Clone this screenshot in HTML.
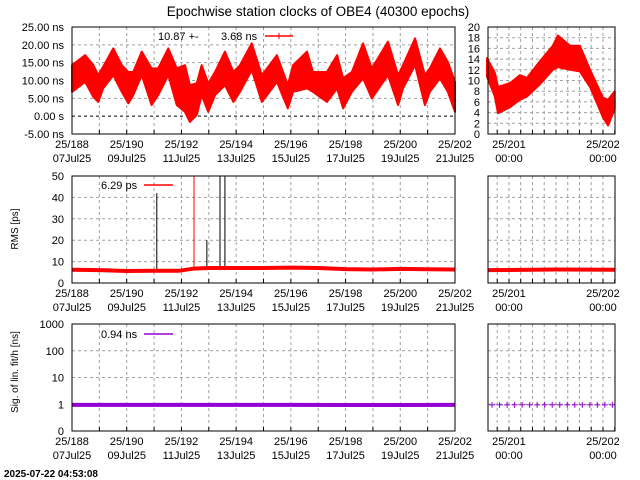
<!DOCTYPE html>
<html><head><meta charset="utf-8"><style>
body{margin:0;background:#fff;}
svg{display:block;font-family:"Liberation Sans","DejaVu Sans",sans-serif;font-size:11px;}
</style></head><body>
<svg id="c" width="640" height="480" xmlns="http://www.w3.org/2000/svg">
<text x="318" y="16" text-anchor="middle" font-size="13.5">Epochwise station clocks of OBE4 (40300 epochs)</text>
<text x="18" y="229" transform="rotate(-90 18 229)" text-anchor="middle" font-size="10">RMS [ps]</text>
<text x="18" y="372" transform="rotate(-90 18 372)" text-anchor="middle" font-size="10">Sig. of lin. fit/h [ns]</text>
<text x="4" y="477" font-size="10" font-weight="bold">2025-07-22 04:53:08</text>
</svg>
<script>
// clock band (day, upper ns, lower ns)
const clkDays=[188.0,188.48,188.78,188.96,189.14,189.51,189.82,190.06,190.24,190.55,190.91,191.15,191.52,191.83,192.13,192.31,192.56,192.74,192.98,193.23,193.59,193.9,194.14,194.57,194.94,195.13,195.49,195.89,196.08,196.59,196.81,197.32,197.69,197.91,198.23,198.64,198.96,199.55,199.92,200.1,200.54,200.9,201.08,201.45,201.74,202.0];
const clkUpper=[14.3,17.1,14.3,11.5,13.9,19.0,14.3,12.4,12.4,18.1,13.4,13.4,19.0,13.4,14.3,8.7,9.2,14.3,9.2,12.4,18.1,12.4,14.3,20.4,11.5,13.4,17.1,8.7,14.3,18.1,12.4,12.4,17.1,10.6,12.4,20.4,13.4,20.9,11.5,14.3,21.8,11.5,13.4,19.0,15.2,9.6];
const clkLower=[6.8,9.6,5.4,4.0,7.8,11.5,6.8,3.6,5.9,11.5,3.1,5.9,11.5,3.1,1.2,-1.6,0.3,5.9,1.2,5.9,8.7,4.0,6.8,12.9,4.0,5.9,9.6,2.2,6.8,7.8,6.8,4.0,7.8,2.2,6.8,10.6,5.0,11.5,3.1,7.8,14.3,3.1,6.8,10.6,6.8,1.2];
// right panel clock (hours from 25/201 00:00)
const rHours=[-5.6,-3.6,-2.8,0.26,2.8,4.6,7.9,11.2,12.5,15.6,18.1,20.7,24,25.3,27];
const rUpper=[14.2,11.4,8.8,9.5,11,10.5,13.6,16.5,18.4,16.5,16.5,12,6.8,6.4,8];
const rLower=[10.7,7,3.9,5,6.4,7,9.3,12,12.5,12,11.7,8.8,3.1,1.6,4.7];
// RMS spikes (day, ps)
const spikeDays=[191.1,192.46,192.93,193.41,193.59];
const spikeVals=[42,55,20,55,55];
const rmsDays=[188,189,190,191,191.9,192.5,193,194,195,196,197,198,199,200,201,202];
const rmsVals=[6.2,6,5.6,5.7,5.7,6.8,7,7,7,7.2,7,6.5,6.3,6.6,6.4,6.3];
const sigDays=[188,190,192,194,196,198,200,202];
const sigVals=[0.95,0.95,0.95,0.95,0.95,0.94,0.94,0.95];

const NS="http://www.w3.org/2000/svg";
const svg=document.getElementById('c');
function el(t,a,p){const e=document.createElementNS(NS,t);for(const k in a)e.setAttribute(k,a[k]);(p||svg).appendChild(e);return e;}
const L={x0:72,x1:455,d0:188,d1:202}, R={x0:488,x1:615,d0:200.777,d1:202.128};
function sx(P,d){return P.x0+(d-P.d0)/(P.d1-P.d0)*(P.x1-P.x0);}
const rows=[{y0:27,y1:134},{y0:176,y1:283},{y0:324,y1:431}];
function linY(r,v,lo,hi){return r.y1-(v-lo)/(hi-lo)*(r.y1-r.y0);}
function logY(r,v){const l=v<=0.1?-1:Math.log10(v);return r.y1-(l+1)/4*(r.y1-r.y0);}

function frame(name){
  const g=el('g',{});
  
  
  return g;
}
function grids(P,r,g,yvals,yf){
  const step=(P===L)?1:0.125;
  for(let d=Math.ceil(P.d0/step)*step; d<=P.d1+1e-9; d+=step){
    const x=sx(P,d);
    if(x>P.x0+1&&x<P.x1-1) el('line',{x1:x,x2:x,y1:r.y0,y2:r.y1,stroke:'#a0a0a0','stroke-dasharray':'3,3','stroke-width':1},g);
    el('line',{x1:x,x2:x,y1:r.y1,y2:r.y1-4,stroke:'#000'},g);
  }
  yvals.forEach(v=>{const y=yf(v);
    el('line',{x1:P.x0,x2:P.x1,y1:y,y2:y,stroke:'#a0a0a0','stroke-dasharray':'3,3'},g);});
}
function box(P,r,g){el('rect',{x:P.x0,y:r.y0,width:P.x1-P.x0,height:r.y1-r.y0,fill:'none',stroke:'#000'},g);}
function xlabels(P,r,g,days,l1,l2){
  days.forEach((d,i)=>{const x=sx(P,d);
    const t=el('text',{x:x,y:r.y1+14,'text-anchor':'middle'},g);t.textContent=l1[i];
    const t2=el('text',{x:x,y:r.y1+28,'text-anchor':'middle'},g);t2.textContent=l2[i];});
}
const lDays=[188,190,192,194,196,198,200,202];
const lL1=lDays.map(d=>'25/'+d), lL2=['07Jul25','09Jul25','11Jul25','13Jul25','15Jul25','17Jul25','19Jul25','21Jul25'];
function band(P,days,up,lo,yf,g,name){
  const u=days.map((d,i)=>sx(P,d)+','+yf(up[i]));
  const l=days.map((d,i)=>sx(P,d)+','+yf(lo[i])).reverse();
  const p=el('polygon',{points:u.concat(l).join(' '),fill:'#ff0000',stroke:'#ff0000','stroke-width':2,'stroke-linejoin':'round'},g);
  
  
}

// ---- row 1
{const r=rows[0];const g=frame('clock-panel-left');const yf=v=>linY(r,v,-5,25);
 grids(L,r,g,[5,10,15,20],yf);
 el('line',{x1:L.x0,x2:L.x1,y1:yf(0),y2:yf(0),stroke:'#000','stroke-dasharray':'3,3'},g);
 [-5,0,5,10,15,20,25].forEach(v=>{const t=el('text',{x:L.x0-8,y:yf(v)+4,'text-anchor':'end'},g);t.textContent=v===0?'0.00  s':v.toFixed(2)+' ns';});
 band(L,clkDays,clkUpper,clkLower,yf,g,'clock-series');
 box(L,r,g);xlabels(L,r,g,lDays,lL1,lL2);
 const lt=el('text',{x:158,y:40},g);lt.textContent='10.87 +-';
 const lt2=el('text',{x:221,y:40},g);lt2.textContent='3.68 ns';
 el('line',{x1:265,x2:293,y1:36,y2:36,stroke:'#f00','stroke-width':1.5},g);
 el('line',{x1:279,x2:279,y1:33,y2:39,stroke:'#f00'},g);
 const gr=frame('clock-panel-right');const yr=v=>linY(r,v,0,20);
 grids(R,r,gr,[2,4,6,8,10,12,14,16,18],yr);
 for(let v=0;v<=20;v+=2){const t=el('text',{x:R.x0-8,y:yr(v)+4,'text-anchor':'end'},gr);t.textContent=v;}
 band(R,rHours.map(h=>201+h/24),rUpper,rLower,yr,gr,'clock-series-right');
 box(R,r,gr);xlabels(R,r,gr,[201,202],['25/201','25/202'],['00:00','00:00']);
}
// ---- row 2
{const r=rows[1];const g=frame('rms-panel-left');const yf=v=>linY(r,Math.min(v,50),0,50);
 grids(L,r,g,[10,20,30,40],yf);
 [0,10,20,30,40,50].forEach(v=>{const t=el('text',{x:L.x0-8,y:yf(v)+4,'text-anchor':'end'},g);t.textContent=v;});
 spikeDays.forEach((d,i)=>{const x=sx(L,d);const s=el('line',{x1:x,x2:x,y1:yf(6),y2:yf(spikeVals[i]),stroke:i==1?'#f00':'#000'},g);
   });
 const pl=el('polyline',{points:rmsDays.map((d,i)=>sx(L,d)+','+yf(rmsVals[i])).join(' '),fill:'none',stroke:'#f00','stroke-width':4},g);
 
 box(L,r,g);xlabels(L,r,g,lDays,lL1,lL2);
 const lt=el('text',{x:101,y:189},g);lt.textContent='6.29 ps';
 el('line',{x1:144,x2:173,y1:185,y2:185,stroke:'#f00','stroke-width':1.5},g);
 const gr=frame('rms-panel-right');
 grids(R,r,gr,[10,20,30,40],yf);
 const pr=el('polyline',{points:[200.777,201.5,202.128].map((d,i)=>sx(R,d)+','+yf([6,6.3,6.2][i])).join(' '),fill:'none',stroke:'#f00','stroke-width':4},gr);
 
 box(R,r,gr);xlabels(R,r,gr,[201,202],['25/201','25/202'],['00:00','00:00']);
}
// ---- row 3
{const r=rows[2];const g=frame('sig-panel-left');const yf=v=>logY(r,v);
 grids(L,r,g,[1,10,100],yf);
 [[0.1,'0'],[1,'1'],[10,'10'],[100,'100'],[1000,'1000']].forEach(a=>{const t=el('text',{x:L.x0-8,y:yf(a[0])+4,'text-anchor':'end'},g);t.textContent=a[1];});
 const pl=el('polyline',{points:sigDays.map((d,i)=>sx(L,d)+','+yf(sigVals[i])).join(' '),fill:'none',stroke:'#9400d3','stroke-width':4},g);
 
 box(L,r,g);xlabels(L,r,g,lDays,lL1,lL2);
 const lt=el('text',{x:101,y:338},g);lt.textContent='0.94 ns';
 el('line',{x1:144,x2:173,y1:334,y2:334,stroke:'#9400d3','stroke-width':1.5},g);
 const gr=frame('sig-panel-right');
 grids(R,r,gr,[1,10,100],yf);
 for(let d=200.82;d<202.13;d+=0.08){const x=sx(R,d);el('line',{x1:x-3,x2:x+3,y1:yf(0.95),y2:yf(0.95),stroke:'#9400d3'},gr);el('line',{x1:x,x2:x,y1:yf(0.95)-3,y2:yf(0.95)+3,stroke:'#9400d3'},gr);}
 box(R,r,gr);xlabels(R,r,gr,[201,202],['25/201','25/202'],['00:00','00:00']);
}
</script>
</body></html>
